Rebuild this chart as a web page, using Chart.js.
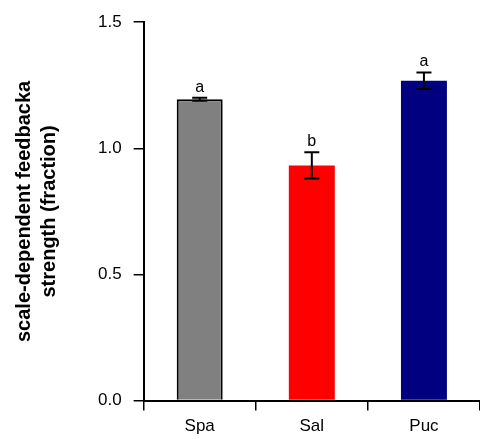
<!DOCTYPE html>
<html>
<head>
<meta charset="utf-8">
<script src="https://cdn.jsdelivr.net/npm/chart.js@4"></script>
<style>
  html, body { margin: 0; padding: 0; background: #fff; }
  #wrap { width: 480px; height: 439px; }
</style>
</head>
<body>
<div id="wrap"><canvas id="c" width="480" height="439"></canvas></div>
<script>
const categories = ['Spa', 'Sal', 'Puc'];
const means = [1.195, 0.932, 1.268];
const errors = [0.006, 0.052, 0.033];
const letters = ['a', 'b', 'a'];
const yTicks = [0, 0.5, 1.0, 1.5];

const fillColors = ['#808080', '#ff0000', '#000080'];
const borderColors = ['#000000', '#ff0000', '#000080'];
const borderWidths = [2, 0, 0];

const FONT = '"Liberation Sans", Arial, Helvetica, sans-serif';

// error bars + significance letters
const errorBars = {
  id: 'errorBars',
  afterDatasetsDraw(chart) {
    const ctx = chart.ctx;
    const y = chart.scales.y;
    const meta = chart.getDatasetMeta(0);
    ctx.save();
    meta.data.forEach((bar, i) => {
      const top = y.getPixelForValue(means[i] + errors[i]);
      const bot = y.getPixelForValue(means[i] - errors[i]);
      const cap = 7.5;
      ctx.strokeStyle = '#000';
      ctx.lineWidth = 2;
      ctx.beginPath();
      ctx.moveTo(bar.x, top); ctx.lineTo(bar.x, bot);
      ctx.moveTo(bar.x - cap, top); ctx.lineTo(bar.x + cap, top);
      ctx.moveTo(bar.x - cap, bot); ctx.lineTo(bar.x + cap, bot);
      ctx.stroke();

      ctx.fillStyle = '#000';
      ctx.font = '16px ' + FONT;
      ctx.textAlign = 'center';
      ctx.fillText(letters[i], bar.x, top - 6);
    });
    ctx.restore();
  }
};

new Chart(document.getElementById('c').getContext('2d'), {
  type: 'bar',
  data: {
    labels: categories,
    datasets: [{
      data: means,
      backgroundColor: fillColors,
      borderColor: borderColors,
      borderWidth: borderWidths,
      borderSkipped: 'bottom',
      barPercentage: 0.41,
      categoryPercentage: 1.0
    }]
  },
  options: {
    responsive: false,
    animation: false,
    layout: { padding: { left: 12, top: 0, right: 0, bottom: -4 } },
    plugins: {
      legend: { display: false },
      tooltip: { enabled: false }
    },
    scales: {
      x: {
        grid: {
          display: true,
          drawOnChartArea: false,
          drawTicks: true,
          tickLength: 10,
          color: '#000',
          lineWidth: 1.5
        },
        border: { display: true, color: '#000', width: 2 },
        ticks: {
          color: '#000',
          font: { family: FONT, size: 17 },
          padding: 6
        }
      },
      y: {
        min: 0,
        max: 1.5,
        afterBuildTicks: (axis) => { axis.ticks = yTicks.map(v => ({ value: v })); },
        grid: {
          display: true,
          drawOnChartArea: false,
          drawTicks: true,
          tickLength: 10,
          color: '#000',
          lineWidth: 1.5
        },
        border: { display: true, color: '#000', width: 2 },
        ticks: {
          color: '#000',
          font: { family: FONT, size: 17 },
          padding: 12,
          callback: (v) => Number(v).toFixed(1)
        },
        title: {
          display: true,
          text: ['scale-dependent feedbacka', 'strength (fraction)'],
          color: '#000',
          font: { family: FONT, size: 20, weight: 'bold', lineHeight: 1.25 },
          padding: { top: 0, bottom: 24 }
        }
      }
    }
  },
  plugins: [errorBars]
});
</script>
</body>
</html>
